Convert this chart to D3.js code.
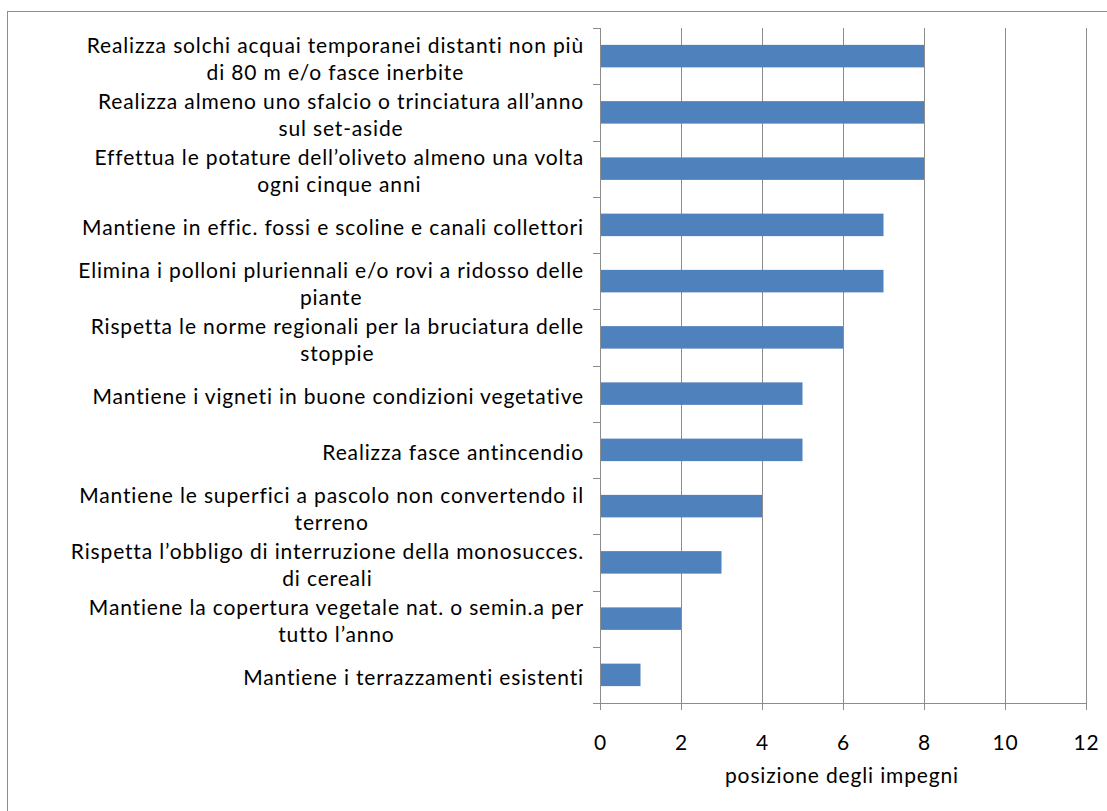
<!DOCTYPE html>
<html>
<head>
<meta charset="utf-8">
<script src="https://cdn.jsdelivr.net/npm/d3@7"></script>
<style>
  body { margin: 0; background: #fff; }
  svg { display: block; }
  text { font-family: Lato, "Open Sans", sans-serif; fill: #000; }
</style>
</head>
<body>
<svg id="chart" width="1107" height="811"></svg>
<script>
// categories, top to bottom ("\n" = line break as in the original)
var categories = [
    "Realizza solchi acquai temporanei distanti non più\ndi 80 m e/o fasce inerbite",
    "Realizza almeno uno sfalcio o trinciatura all’anno\nsul set-aside",
    "Effettua le potature dell’oliveto almeno una volta\nogni cinque anni",
    "Mantiene in effic. fossi e scoline e canali collettori",
    "Elimina i polloni pluriennali e/o rovi a ridosso delle\npiante",
    "Rispetta le norme regionali per la bruciatura delle\nstoppie",
    "Mantiene i vigneti in buone condizioni vegetative",
    "Realizza fasce antincendio",
    "Mantiene le superfici a pascolo non convertendo il\nterreno",
    "Rispetta l’obbligo di interruzione della monosucces.\ndi cereali",
    "Mantiene la copertura vegetale nat. o semin.a per\ntutto l’anno",
    "Mantiene i terrazzamenti esistenti"
];
var values = [8, 8, 8, 7, 7, 6, 5, 5, 4, 3, 2, 1];
var xTicks = [0, 2, 4, 6, 8, 10, 12];
var xTitle = "posizione degli impegni";

var svg = d3.select("#chart");
var margin = {top: 28, right: 21, bottom: 108, left: 600};
var width = +svg.attr("width") - margin.left - margin.right;
var height = +svg.attr("height") - margin.top - margin.bottom;
var fontSize = "21px";
var spacing = "0.85px";

// outer frame
svg.append("rect")
        .attr("x", 7.5)
        .attr("y", 11.5)
        .attr("width", 1120)
        .attr("height", 820)
        .attr("fill", "none")
        .attr("stroke", "#8c8c8c");

var g = svg.append("g").attr("transform", "translate(" + margin.left + "," + margin.top + ")");

var x = d3.scaleLinear()
        .domain([0, 12])
        .range([0, width]);

var y = d3.scaleBand()
        .domain(d3.range(categories.length))
        .range([0, height])
        .paddingInner(0.6)
        .paddingOuter(0.3);

var step = y.step();

// gridlines
g.append("g")
        .selectAll("line")
        .data(xTicks.slice(1))
        .enter().append("line")
        .attr("x1", function (d) { return Math.round(x(d)) + 0.5; })
        .attr("x2", function (d) { return Math.round(x(d)) + 0.5; })
        .attr("y1", 0)
        .attr("y2", height)
        .attr("stroke", "#8c8c8c");

// bars
g.append("g")
        .selectAll("rect")
        .data(values)
        .enter().append("rect")
        .attr("x", 0)
        .attr("y", function (d, i) { return y(i); })
        .attr("width", function (d) { return x(d); })
        .attr("height", y.bandwidth())
        .attr("fill", "#4f81bd");

// x axis
var xAxis = g.append("g")
        .attr("transform", "translate(0," + height + ")")
        .call(d3.axisBottom(x).tickValues(xTicks).tickSize(7).tickPadding(25).tickFormat(d3.format("d")));
xAxis.select(".domain").attr("stroke", "#8c8c8c");
xAxis.selectAll(".tick line").attr("stroke", "#8c8c8c");
xAxis.selectAll(".tick text")
        .attr("font-size", fontSize)
        .attr("font-family", "Lato, sans-serif")
        .attr("letter-spacing", "0.8px")
        .attr("fill", "#000");

// y axis: line + category ticks between bands
g.append("line")
        .attr("x1", 0.5).attr("x2", 0.5)
        .attr("y1", 0).attr("y2", height)
        .attr("stroke", "#8c8c8c");
g.append("g")
        .selectAll("line")
        .data(d3.range(categories.length + 1))
        .enter().append("line")
        .attr("x1", -7).attr("x2", 0)
        .attr("y1", function (d) { return Math.round(d * step) + 0.5; })
        .attr("y2", function (d) { return Math.round(d * step) + 0.5; })
        .attr("stroke", "#8c8c8c");

// category labels: lines centered within block, block right-aligned
var lineH = 27;
var labels = g.append("g");
categories.forEach(function (c, i) {
    var lines = c.split("\n");
    var cy = (i + 0.5) * step + 3;
    var t = labels.append("text")
            .attr("font-size", fontSize)
            .attr("letter-spacing", spacing)
            .attr("text-anchor", "middle");
    var spans = lines.map(function (l, k) {
        return t.append("tspan")
                .attr("y", cy + (k - (lines.length - 1) / 2) * lineH)
                .attr("dy", "0.35em")
                .text(l);
    });
    var maxW = d3.max(spans, function (s) { return s.node().getComputedTextLength(); });
    spans.forEach(function (s) { s.attr("x", -16 - maxW / 2); });
});

// axis title
g.append("text")
        .attr("x", width / 2 - 1)
        .attr("y", height + 80)
        .attr("text-anchor", "middle")
        .attr("font-size", fontSize)
        .attr("letter-spacing", spacing)
        .text(xTitle);
</script>
</body>
</html>
